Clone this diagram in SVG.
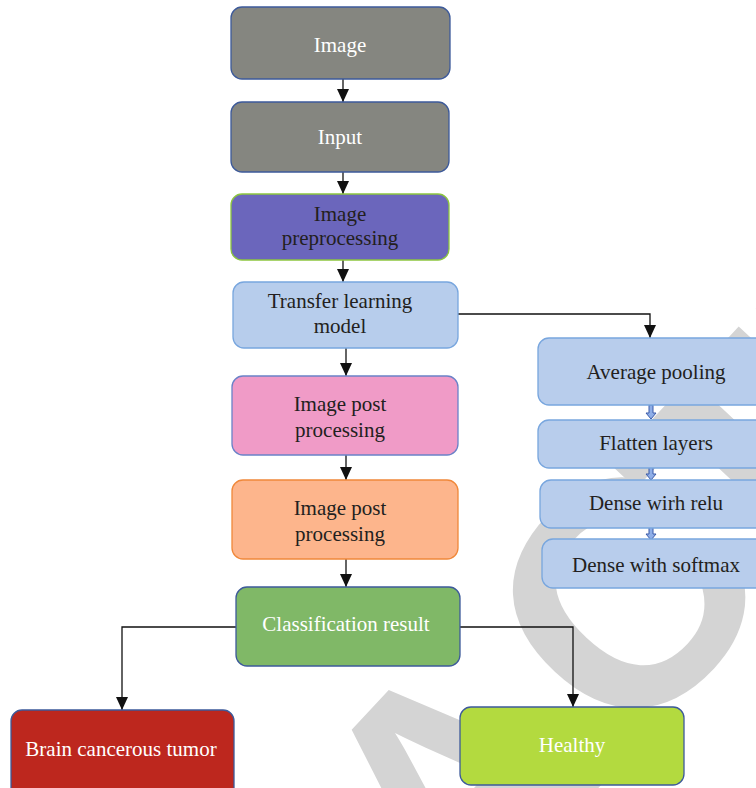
<svg xmlns="http://www.w3.org/2000/svg" width="756" height="788" viewBox="0 0 756 788">
  <defs>
    <marker id="ah" viewBox="0 0 13 12" refX="13" refY="6" markerWidth="13" markerHeight="12" markerUnits="userSpaceOnUse" orient="auto">
      <path d="M0,0 L13,6 L0,12 Z" fill="#111"/>
    </marker>
    <path id="blk" d="M-2,0 H2 V8 H5 L0,14 L-5,8 H-2 Z" fill="#8eaee8" stroke="#3b5ba8" stroke-width="1"/>
  </defs>
  <style>
    text { font-family: "Liberation Serif", "Times New Roman", serif; font-size: 21px; text-anchor: middle; }
    .w { fill: #ffffff; }
    .k { fill: #231f20; }
    .box { stroke-width: 1.3; }
    .conn { fill: none; stroke: #111; stroke-width: 1.3; marker-end: url(#ah); }
    .wm { font-family: "Liberation Sans", Arial, sans-serif; font-weight: bold; font-size: 320px; text-anchor: start; fill: #d4d4d4; }
  </style>
  <rect width="756" height="788" fill="#ffffff"/>

  <g id="watermark" transform="translate(622,594) rotate(-47)">
    <text class="wm" x="-1243" y="115" dx="0 0 0 0 0 25 -32" dy="0 0 0 0 0 0 8">RETRACTED</text>
  </g>

  <g id="connectors">
    <path class="conn" d="M343,79 V102"/>
    <path class="conn" d="M343,172 V194"/>
    <path class="conn" d="M343,260 V282"/>
    <path class="conn" d="M346,348 V376"/>
    <path class="conn" d="M346,455 V480"/>
    <path class="conn" d="M346,559 V587"/>
    <path class="conn" d="M458,314 H650 V338"/>
    <path class="conn" d="M236,627 H122 V710"/>
    <path class="conn" d="M460,627 H573 V707"/>
    <use href="#blk" x="651" y="405"/>
    <use href="#blk" x="651" y="466"/>
    <use href="#blk" x="651" y="526"/>
  </g>

  <g id="n-image">
    <rect class="box" x="231" y="7" width="219" height="72" rx="11" fill="#858680" stroke="#3d5a9a"/>
    <text class="w" x="340" y="52">Image</text>
  </g>
  <g id="n-input">
    <rect class="box" x="231" y="102" width="218" height="70" rx="11" fill="#858680" stroke="#3d5a9a"/>
    <text class="w" x="340" y="144">Input</text>
  </g>
  <g id="n-preproc">
    <rect class="box" x="231" y="194" width="218" height="66" rx="11" fill="#6b66bc" stroke="#8dc63f"/>
    <text class="k" x="340" y="221">Image</text>
    <text class="k" x="340" y="245">preprocessing</text>
  </g>
  <g id="n-transfer">
    <rect class="box" x="233" y="282" width="225" height="66" rx="11" fill="#b7cdec" stroke="#78a6de"/>
    <text class="k" x="340" y="308">Transfer learning</text>
    <text class="k" x="340" y="333">model</text>
  </g>
  <g id="n-post1">
    <rect class="box" x="232" y="376" width="226" height="79" rx="11" fill="#f09bc7" stroke="#6a82c8"/>
    <text class="k" x="340" y="411">Image post</text>
    <text class="k" x="340" y="437">processing</text>
  </g>
  <g id="n-post2">
    <rect class="box" x="232" y="480" width="226" height="79" rx="11" fill="#fdb58c" stroke="#f0883a"/>
    <text class="k" x="340" y="515">Image post</text>
    <text class="k" x="340" y="541">processing</text>
  </g>
  <g id="n-class">
    <rect class="box" x="236" y="587" width="224" height="79" rx="11" fill="#80b867" stroke="#3d5a9a"/>
    <text class="w" x="346" y="631">Classification result</text>
  </g>
  <g id="n-brain">
    <rect class="box" x="11" y="710" width="223" height="92" rx="11" fill="#bd271e" stroke="#3d5a9a"/>
    <text class="w" x="121" y="756">Brain cancerous tumor</text>
  </g>
  <g id="n-healthy">
    <rect class="box" x="460" y="707" width="224" height="78" rx="11" fill="#b3da3f" stroke="#3d5a9a"/>
    <text class="w" x="572" y="752">Healthy</text>
  </g>
  <g id="n-avgpool">
    <rect class="box" x="538" y="338" width="240" height="67" rx="11" fill="#b8cdec" stroke="#78a6de"/>
    <text class="k" x="656" y="379">Average pooling</text>
  </g>
  <g id="n-flatten">
    <rect class="box" x="538" y="420" width="240" height="48" rx="11" fill="#b8cdec" stroke="#78a6de"/>
    <text class="k" x="656" y="450">Flatten layers</text>
  </g>
  <g id="n-relu">
    <rect class="box" x="540" y="480" width="238" height="48" rx="11" fill="#b8cdec" stroke="#78a6de"/>
    <text class="k" x="656" y="510">Dense wirh relu</text>
  </g>
  <g id="n-softmax">
    <rect class="box" x="542" y="539" width="236" height="49" rx="11" fill="#b8cdec" stroke="#78a6de"/>
    <text class="k" x="656" y="572">Dense with softmax</text>
  </g>
</svg>
